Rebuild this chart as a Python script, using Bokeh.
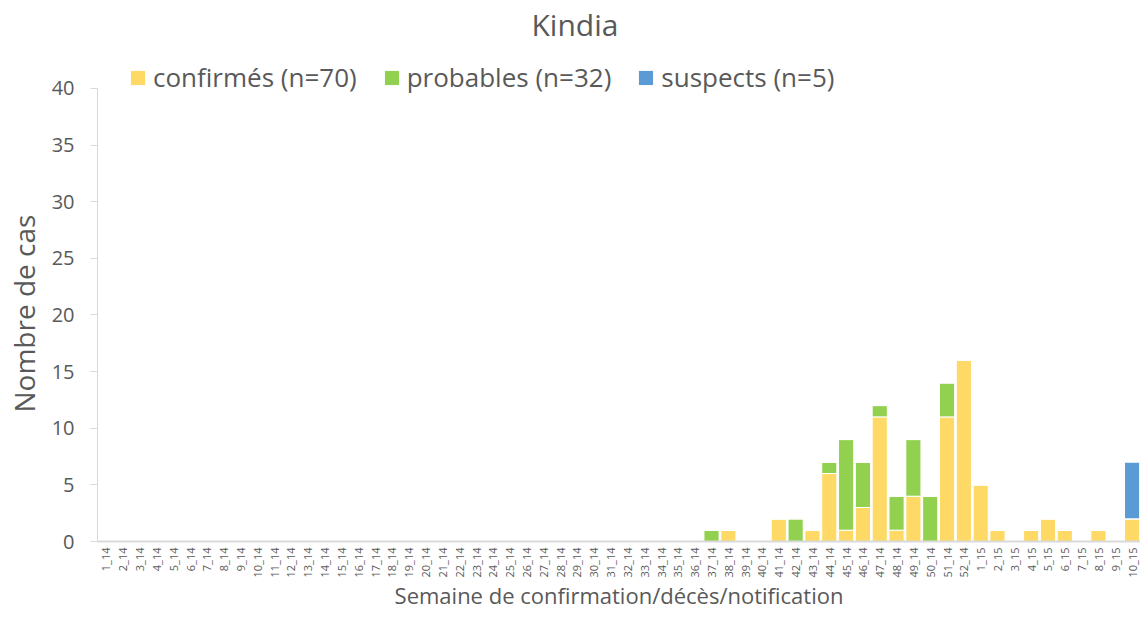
from bokeh.plotting import figure
from bokeh.models import (ColumnDataSource, FactorRange, Range1d, FixedTicker,
                          Legend, LegendItem, Title)
from bokeh.embed import file_html
from bokeh.resources import INLINE

# ---- data ----
weeks = [f"{i}_14" for i in range(1, 53)] + [f"{i}_15" for i in range(1, 11)]
confirmes_vals = {"38_14": 1, "41_14": 2, "43_14": 1, "44_14": 6, "45_14": 1,
                  "46_14": 3, "47_14": 11, "48_14": 1, "49_14": 4, "51_14": 11,
                  "52_14": 16, "1_15": 5, "2_15": 1, "4_15": 1, "5_15": 2,
                  "6_15": 1, "8_15": 1, "10_15": 2}
probables_vals = {"37_14": 1, "42_14": 2, "44_14": 1, "45_14": 8, "46_14": 4,
                  "47_14": 1, "48_14": 3, "49_14": 5, "50_14": 4, "51_14": 3}
suspects_vals = {"10_15": 5}

confirmes = [confirmes_vals.get(w, 0) for w in weeks]
probables = [probables_vals.get(w, 0) for w in weeks]
suspects = [suspects_vals.get(w, 0) for w in weeks]

series = ["confirmes", "probables", "suspects"]
labels = ["confirmés (n=70)", "probables (n=32)", "suspects (n=5)"]
colors = ["#FFD966", "#92D050", "#5B9BD5"]
y_ticks = [0, 5, 10, 15, 20, 25, 30, 35, 40]
y_max = 40

source = ColumnDataSource(dict(weeks=weeks, confirmes=confirmes,
                               probables=probables, suspects=suspects))

FONT = "Open Sans"
GREY = "#595959"
AXIS_GREY = "#D9D9D9"

FRAME_TOP, FRAME_BOTTOM, Y40 = 44, 542, 88   # screen px
p = figure(width=1140, height=613, output_backend="svg", toolbar_location=None,
           x_range=FactorRange(*weeks, range_padding=0),
           y_range=Range1d(0, y_max * (FRAME_BOTTOM - FRAME_TOP) / (FRAME_BOTTOM - Y40)),
           min_border_left=97, min_border_right=0, min_border_top=FRAME_TOP,
           min_border_bottom=613 - FRAME_BOTTOM)
p.title = Title(text="Kindia", align="left", offset=434, text_font=FONT,
                text_font_size="30px", text_color=GREY, text_font_style="normal",
                standoff=0)
p.outline_line_color = None
p.xgrid.grid_line_color = None
p.ygrid.grid_line_color = None

renderers = p.vbar_stack(series, x="weeks", width=0.9, source=source,
                         color=colors, line_color="white", line_width=1)

legend = Legend(items=[LegendItem(label=l, renderers=[r]) for l, r in zip(labels, renderers)],
                orientation="horizontal", location=(31, 446),
                label_text_font=FONT, label_text_font_size="26px",
                label_text_color=GREY, glyph_width=19, glyph_height=19,
                label_standoff=6, spacing=25, padding=0, margin=0,
                border_line_color=None, background_fill_alpha=0)
p.add_layout(legend)

p.yaxis.ticker = FixedTicker(ticks=y_ticks)
p.yaxis.bounds = (0, y_max)
p.yaxis.axis_line_color = AXIS_GREY
p.yaxis.major_tick_line_color = AXIS_GREY
p.yaxis.major_tick_out = 7
p.yaxis.major_tick_in = 0
p.yaxis.minor_tick_line_color = None
p.yaxis.major_label_text_font = FONT
p.yaxis.major_label_text_font_size = "20px"
p.yaxis.major_label_text_color = GREY
p.yaxis.major_label_standoff = 16

ylabel = Title(text="Nombre de cas", align="left", offset=129, text_font=FONT,
               text_font_size="28px", text_color=GREY, text_font_style="normal",
               vertical_align="top", standoff=8)
p.add_layout(ylabel, "left")

p.xaxis.axis_line_color = AXIS_GREY
p.xaxis.axis_line_width = 2
p.xaxis.major_tick_line_color = None
p.xaxis.major_tick_out = 0
p.xaxis.major_tick_in = 0
p.xaxis.minor_tick_line_color = None
p.xaxis.major_label_orientation = 1.5708
p.xaxis.major_label_text_font = FONT
p.xaxis.major_label_text_font_size = "11px"
p.xaxis.major_label_text_color = GREY
p.xaxis.major_label_standoff = 6
p.xaxis.axis_label = "Semaine de confirmation/décès/notification"
p.xaxis.axis_label_text_font = FONT
p.xaxis.axis_label_text_font_size = "22px"
p.xaxis.axis_label_text_font_style = "normal"
p.xaxis.axis_label_text_color = GREY
p.xaxis.axis_label_standoff = 0

open("out.html", "w").write(file_html(p, INLINE))
